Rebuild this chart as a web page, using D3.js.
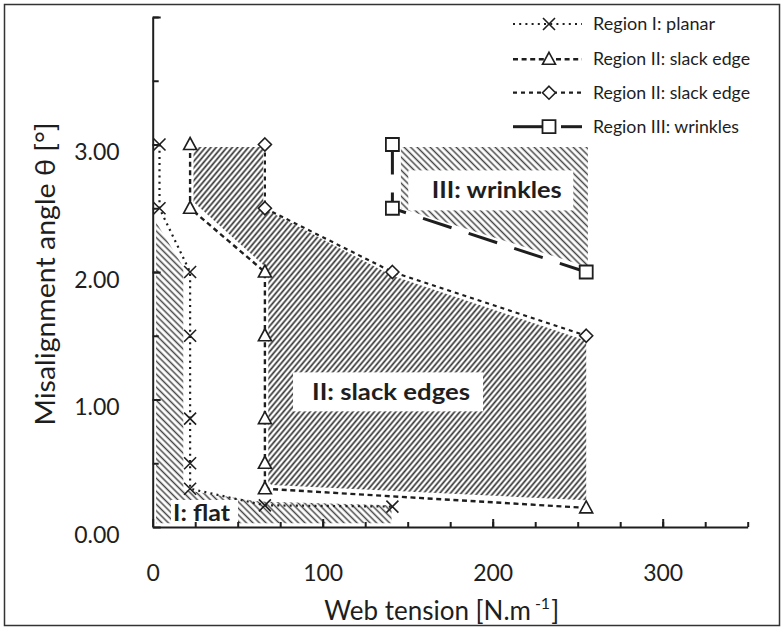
<!DOCTYPE html>
<html><head><meta charset="utf-8">
<script src="https://cdn.jsdelivr.net/npm/d3@7/dist/d3.min.js"></script>
<style>
body{margin:0;background:#fff}
svg{display:block}
text{font-family:Lato,"Open Sans",sans-serif;fill:#1e1e1e}
</style>
</head><body>
<svg id="c" width="784" height="630"></svg>
<script>
// ---------- data ----------
const planarTension   = [4, 4, 22, 22, 22, 22, 22, 66, 141];
const planarTheta     = [3.0, 2.5, 2.0, 1.5, 0.85, 0.5, 0.3, 0.17, 0.16];
const slackTriTension = [22, 22, 66, 66, 66, 66, 66, 255];
const slackTriTheta   = [3.0, 2.5, 2.0, 1.5, 0.85, 0.5, 0.3, 0.15];
const slackDiaTension = [66, 66, 141, 255];
const slackDiaTheta   = [3.0, 2.5, 2.0, 1.5];
const wrinkleTension  = [141, 141, 255];
const wrinkleTheta    = [3.0, 2.5, 2.0];
const seriesNames = ["Region I: planar", "Region II: slack edge", "Region II: slack edge", "Region III: wrinkles"];
const xTickLabels = [0, 100, 200, 300];
const yTickValues = [0, 1, 2, 3];
const yTickLabels = ["0.00", "1.00", "2.00", "3.00"];
// hatched zones, as [tension, theta] corners
const zoneFlat    = [[2,2.39],[18,2.04],[18,0.29],[63,0.2],[140.5,0.17],[140.5,0.03],[2,0.03]];
const zoneSlack   = [[24,2.98],[65,2.98],[65,2.5],[141,1.97],[255,1.46],[255,0.21],[70,0.33],[68,0.35],[68,2.02],[24,2.55]];
const zoneWrinkle = [[146,2.98],[256,2.98],[256,2.04],[146,2.5]];
const zoneLabels  = ["I: flat", "II: slack edges", "III: wrinkles"];
const zoneLabelAt = [[28.7,0.11],[140.2,1.06],[202.4,2.64]];

// ---------- layout ----------
const W = 784, H = 630;
const svg = d3.select("#c");
const x = d3.scaleLinear().domain([0, 350]).range([152.7, 747.7]);
const y = d3.scaleLinear().domain([0, 4]).range([527, 17]);
const ink = "#1e1e1e";

svg.append("rect").attr("x",4.5).attr("y",4.5).attr("width",W-9).attr("height",H-9)
  .attr("fill","#fff").attr("stroke","#333").attr("stroke-width",1.5);

// patterns
const defs = svg.append("defs");
function hatch(id, angle, period, sw, col){
  const p = defs.append("pattern").attr("id",id).attr("patternUnits","userSpaceOnUse")
    .attr("width",period).attr("height",period).attr("patternTransform",`rotate(${angle})`);
  p.append("line").attr("x1",period/2).attr("y1",-1).attr("x2",period/2).attr("y2",period+1)
    .attr("stroke",col).attr("stroke-width",sw);
}
hatch("hBack", -45, 4.6, 1.5, "#454545");
hatch("hFwd", 40, 4.1, 1.7, "#363636");

const poly = pts => "M" + pts.map(p => x(p[0]) + "," + y(p[1])).join("L") + "Z";
svg.append("path").attr("d", poly(zoneFlat)).attr("fill","url(#hBack)");
svg.append("path").attr("d", poly(zoneSlack)).attr("fill","url(#hFwd)");
svg.append("path").attr("d", poly(zoneWrinkle)).attr("fill","url(#hBack)");

// zone labels with white boxes
const boxSpec = [{w:67,h:26,dx:3,dy:0},{w:190,h:39,dx:-3,dy:0},{w:165,h:40,dx:-6,dy:0}];
const labelWidths = [57, 158, 130];
zoneLabels.forEach((t,i) => {
  const cx = x(zoneLabelAt[i][0]), cy = y(zoneLabelAt[i][1]);
  const b = boxSpec[i];
  svg.append("rect").attr("x",cx+b.dx-b.w/2).attr("y",cy+b.dy-b.h/2).attr("width",b.w).attr("height",b.h).attr("fill","#fff");
  svg.append("text").attr("x",cx).attr("y",cy).attr("dy","0.36em").attr("text-anchor","middle")
    .attr("font-size",22).attr("font-weight",700).attr("textLength",labelWidths[i])
    .attr("lengthAdjust","spacingAndGlyphs").text(t);
});

// axes
const gx = svg.append("g").attr("transform",`translate(0,${y(0)})`);
gx.call(d3.axisBottom(x).tickValues(d3.range(25,351,25)).tickSize(-5).tickSizeOuter(0).tickFormat(""));
const gx2 = svg.append("g").attr("transform",`translate(0,${y(0)})`);
gx2.call(d3.axisBottom(x).tickValues(xTickLabels).tickSize(-8).tickSizeOuter(0).tickPadding(38).tickFormat(d3.format("d")));
const gy = svg.append("g").attr("transform",`translate(${x(0)},0)`);
gy.call(d3.axisLeft(y).tickValues(d3.range(0.5,4.01,0.5)).tickSize(-6).tickSizeOuter(0).tickFormat(""));
const gy2 = svg.append("g").attr("transform",`translate(${x(0)},0)`);
gy2.call(d3.axisLeft(y).tickValues(yTickValues.concat([4])).tickSize(-8).tickSizeOuter(0).tickPadding(33)
  .tickFormat((d,i) => i < yTickLabels.length ? yTickLabels[i] : ""));
[gx,gx2,gy,gy2].forEach(g => {
  g.selectAll("path,line").attr("stroke",ink).attr("stroke-width",2);
  g.selectAll("text").attr("font-size",23).attr("fill",ink).attr("font-family","Lato");
});
gy2.selectAll("text").attr("dy","0.32em").attr("y",8);
gx2.select(".domain").remove(); gy2.select(".domain").remove();

// axis titles
const xt = svg.append("text").attr("x",441.7).attr("y",620).attr("text-anchor","middle").attr("font-size",26);
xt.append("tspan").text("Web tension [N.m");
xt.append("tspan").attr("font-size",16).attr("dy",-11).attr("dx",4).text("-1");
xt.append("tspan").attr("dy",11).attr("dx",1).text("]");
svg.append("text").attr("transform","translate(55,274) rotate(-90)").attr("text-anchor","middle")
  .attr("font-size",26).attr("textLength",303).attr("lengthAdjust","spacingAndGlyphs")
  .text("Misalignment angle  θ [°]");

// series
const styles = [
  {dash:"2,4.2", w:2.2},
  {dash:"5,3.6", w:2.4},
  {dash:"4,4", w:2.2},
  {dash:"30,18", w:3}
];
const seriesData = [
  d3.zip(planarTension, planarTheta),
  d3.zip(slackTriTension, slackTriTheta),
  d3.zip(slackDiaTension, slackDiaTheta),
  d3.zip(wrinkleTension, wrinkleTheta)
];
const line = d3.line().x(d => x(d[0])).y(d => y(d[1]));
const markerPath = [
  "M-6,-6L6,6M-6,6L6,-6",
  "M0,-7L6.5,5L-6.5,5Z",
  "M0,-6.5L6.5,0L0,6.5L-6.5,0Z",
  "M-6.5,-6.5H6.5V6.5H-6.5Z"
];
function drawMarker(g, i, cx, cy){
  g.append("path").attr("d", markerPath[i]).attr("transform",`translate(${cx},${cy})`)
    .attr("fill", i===0 ? "none" : "#fff").attr("stroke", ink).attr("stroke-width", i===3 ? 1.8 : 1.6);
}
seriesData.forEach((pts,i) => {
  svg.append("path").attr("d", line(pts)).attr("fill","none").attr("stroke",ink)
    .attr("stroke-width",styles[i].w).attr("stroke-dasharray",styles[i].dash);
});
seriesData.forEach((pts,i) => {
  const g = svg.append("g");
  pts.forEach(p => drawMarker(g, i, x(p[0]), y(p[1])));
});

// legend
const legY = [24, 59.3, 92.7, 126.7];
const legW = [122, 157, 157, 146];
seriesNames.forEach((n,i) => {
  const g = svg.append("g");
  if (i < 3) {
    g.append("line").attr("x1",513).attr("x2",582).attr("y1",legY[i]).attr("y2",legY[i])
      .attr("stroke",ink).attr("stroke-width",styles[i].w).attr("stroke-dasharray",styles[i].dash);
  } else {
    g.append("line").attr("x1",513).attr("x2",545).attr("y1",legY[i]).attr("y2",legY[i]).attr("stroke",ink).attr("stroke-width",3);
    g.append("line").attr("x1",561).attr("x2",582).attr("y1",legY[i]).attr("y2",legY[i]).attr("stroke",ink).attr("stroke-width",3);
  }
  drawMarker(g, i, 549, legY[i]);
  g.append("text").attr("x",593).attr("y",legY[i]).attr("dy","0.36em").attr("font-size",17)
    .attr("textLength",legW[i]).attr("lengthAdjust","spacingAndGlyphs").text(n);
});
</script>
</body></html>
